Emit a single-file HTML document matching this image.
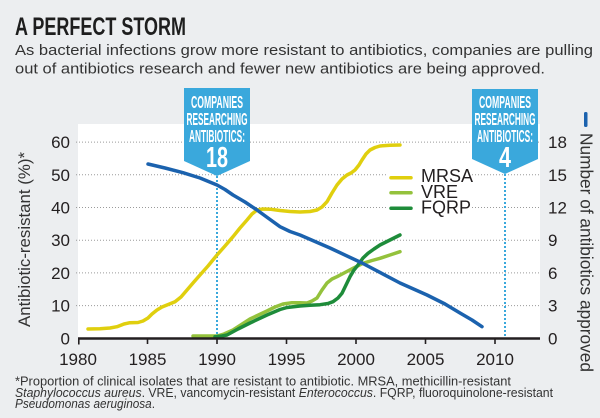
<!DOCTYPE html>
<html><head><meta charset="utf-8"><style>
html,body{margin:0;padding:0;background:#eceef0;}
svg{display:block;}
text{font-family:"Liberation Sans",sans-serif;}
</style></head><body>
<svg width="600" height="418" viewBox="0 0 600 418" xmlns="http://www.w3.org/2000/svg">
<rect x="0" y="0" width="600" height="418" fill="#eceef0"/>
<!-- Title -->
<text x="15" y="35" font-size="25" font-weight="bold" fill="#1e1e1e" textLength="171" lengthAdjust="spacingAndGlyphs">A PERFECT STORM</text>
<text x="15" y="55" font-size="15" fill="#333" textLength="578" lengthAdjust="spacingAndGlyphs">As bacterial infections grow more resistant to antibiotics, companies are pulling</text>
<text x="15" y="73.3" font-size="15" fill="#333" textLength="530" lengthAdjust="spacingAndGlyphs">out of antibiotics research and fewer new antibiotics are being approved.</text>

<!-- White panel -->
<rect x="78" y="124" width="462" height="214" fill="#ffffff"/>

<!-- gridlines -->
<g stroke="#9a9a9a" stroke-width="1" stroke-dasharray="1,2">
<line x1="76" y1="142.1" x2="540" y2="142.1"/>
<line x1="76" y1="174.8" x2="540" y2="174.8"/>
<line x1="76" y1="207.5" x2="540" y2="207.5"/>
<line x1="76" y1="240.2" x2="540" y2="240.2"/>
<line x1="76" y1="272.9" x2="540" y2="272.9"/>
<line x1="76" y1="305.6" x2="540" y2="305.6"/>
</g>
<rect x="387" y="165" width="83" height="50" fill="#ffffff"/>

<!-- dotted verticals -->
<g stroke="#3aa8dc" stroke-width="2" stroke-dasharray="2,2">
<line x1="217" y1="176" x2="217" y2="337"/>
<line x1="505" y1="174" x2="505" y2="337"/>
</g>

<!-- series -->
<g fill="none" stroke-width="3.5" stroke-linejoin="round" stroke-linecap="round">
<polyline stroke="#e0cf0e" points="88,329 100,328.8 110,328 117,326.7 124,324 130,322.7 138,322.5 143,321 148,318 152,314 157,310 162,307 167,305 175,301.7 181,297 187,290 193,283 200,275 208,266 217,255 225,246 233,236.7 240,228 247,220 252,214 257,210 263,209 270,209.2 280,210.5 290,211.5 300,212 310,211.5 317,210 322,207 327,201.7 332,193 337,185 342,179 347,175 351,173 355,170 359,165 362,160 366,154 370,150 375,147.5 380,146 390,145.3 400,145"/>
<polyline stroke="#94c23c" points="193,336 217,336 224,334 233,330 250,319 267,311 275,307 283,304 292,302.7 300,302.7 307,303 312,301 317,298 322,290 327,283 332,279 337,276.7 345,272.5 353,268.3 363,263.3 372,260.5 380,258.3 390,255 400,251.7"/>
<polyline stroke="#1e8c3a" points="215,336.7 222,336 227,335 238,329 250,323 267,315 280,309.5 287,307.5 300,306 310,305.3 320,304.7 328,303.5 333,301.7 338,298 342,293.3 346,285 350,276.7 354,270 358,265 363,258 368,253.3 374,249 380,245 390,240 400,235"/>
<polyline stroke="#1b62ae" points="148,164 165,168 183,172.7 200,178 217,185 225,189.5 233,195 245,202 257,210 268,218 280,226.7 290,231.5 300,235 330,248 362,263 400,283 427,295 445,304 460,313 472,320 482,326.7"/>
</g>

<!-- legend -->
<g stroke-width="3.5" stroke-linecap="round">
<line x1="391" y1="177.7" x2="411" y2="177.7" stroke="#e0cf0e"/>
<line x1="391" y1="192.7" x2="411" y2="192.7" stroke="#94c23c"/>
<line x1="391" y1="208.3" x2="411" y2="208.3" stroke="#1e8c3a"/>
</g>
<g font-size="18" fill="#231f20">
<text x="421" y="182">MRSA</text>
<text x="421" y="198">VRE</text>
<text x="421" y="213.5">FQRP</text>
</g>

<!-- axis -->
<line x1="78" y1="338.5" x2="540" y2="338.5" stroke="#231f20" stroke-width="2.6"/>
<g stroke="#231f20" stroke-width="1.6">
<line x1="78.8" y1="338" x2="78.8" y2="344.5"/>
<line x1="147.5" y1="338" x2="147.5" y2="344"/>
<line x1="217" y1="338" x2="217" y2="344"/>
<line x1="286.5" y1="338" x2="286.5" y2="344"/>
<line x1="356" y1="338" x2="356" y2="344"/>
<line x1="425.5" y1="338" x2="425.5" y2="344"/>
<line x1="495" y1="338" x2="495" y2="344"/>
</g>

<!-- x labels -->
<g font-size="17" fill="#231f20" text-anchor="middle">
<text x="78" y="365">1980</text>
<text x="147.5" y="365">1985</text>
<text x="217" y="365">1990</text>
<text x="286.5" y="365">1995</text>
<text x="356" y="365">2000</text>
<text x="425.5" y="365">2005</text>
<text x="495" y="365">2010</text>
</g>

<!-- left labels -->
<g font-size="17" fill="#231f20" text-anchor="end">
<text x="70" y="148.1">60</text>
<text x="70" y="180.8">50</text>
<text x="70" y="213.5">40</text>
<text x="70" y="246.2">30</text>
<text x="70" y="278.9">20</text>
<text x="70" y="311.6">10</text>
<text x="70" y="344.3">0</text>
</g>
<!-- right labels -->
<g font-size="17" fill="#231f20">
<text x="548" y="148.1">18</text>
<text x="548" y="180.8">15</text>
<text x="548" y="213.5">12</text>
<text x="548" y="246.2">9</text>
<text x="548" y="278.9">6</text>
<text x="548" y="311.6">3</text>
<text x="548" y="344.3">0</text>
</g>

<!-- axis titles -->
<text transform="translate(30,239.5) rotate(-90)" font-size="17" fill="#333" text-anchor="middle" textLength="175" lengthAdjust="spacingAndGlyphs">Antibiotic-resistant (%)*</text>
<rect x="584" y="112" width="3.5" height="15" rx="1.5" fill="#1b62ae"/>
<text transform="translate(580.5,133) rotate(90)" font-size="17.5" fill="#333" textLength="239" lengthAdjust="spacingAndGlyphs">Number of antibiotics approved</text>

<!-- callouts -->
<polygon points="184,88 250,88 250,161 217,176 184,161" fill="#3aa8dc"/>
<polygon points="472,89 538,89 538,159 505,174 472,159" fill="#3aa8dc"/>
<g fill="#ffffff" font-weight="bold" text-anchor="middle" font-size="17.5">
<text x="217" y="108" textLength="52" lengthAdjust="spacingAndGlyphs">COMPANIES</text>
<text x="217" y="125" textLength="61" lengthAdjust="spacingAndGlyphs">RESEARCHING</text>
<text x="217" y="142" textLength="56" lengthAdjust="spacingAndGlyphs">ANTIBIOTICS:</text>
<text x="217" y="167" font-size="29" textLength="22" lengthAdjust="spacingAndGlyphs">18</text>
<text x="505" y="108" textLength="52" lengthAdjust="spacingAndGlyphs">COMPANIES</text>
<text x="505" y="125" textLength="61" lengthAdjust="spacingAndGlyphs">RESEARCHING</text>
<text x="505" y="142" textLength="56" lengthAdjust="spacingAndGlyphs">ANTIBIOTICS:</text>
<text x="505" y="167" font-size="29" textLength="12" lengthAdjust="spacingAndGlyphs">4</text>
</g>

<!-- footnote -->
<g font-size="13" fill="#333">
<text x="15" y="385.5" textLength="496" lengthAdjust="spacingAndGlyphs">*Proportion of clinical isolates that are resistant to antibiotic. MRSA, methicillin-resistant</text>
<text x="15" y="396.8" textLength="538" lengthAdjust="spacingAndGlyphs"><tspan font-style="italic">Staphylococcus aureus</tspan>. VRE, vancomycin-resistant <tspan font-style="italic">Enterococcus</tspan>. FQRP, fluoroquinolone-resistant</text>
<text x="15" y="408" textLength="140" lengthAdjust="spacingAndGlyphs"><tspan font-style="italic">Pseudomonas aeruginosa</tspan>.</text>
</g>
</svg>
</body></html>
